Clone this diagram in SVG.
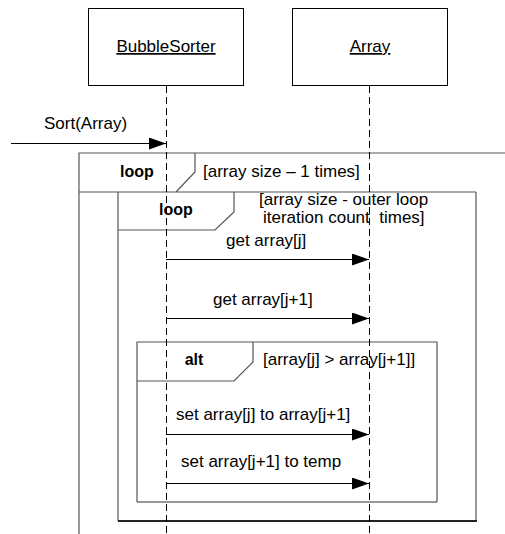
<svg xmlns="http://www.w3.org/2000/svg" width="505" height="534" viewBox="0 0 505 534">
  <style>
    .box { fill: #fff; stroke: #000; stroke-width: 1; }
    .frame { fill: none; stroke: #555; stroke-width: 1.2; }
    .life { stroke: #000; stroke-width: 1; stroke-dasharray: 7 4; fill: none; }
    .msg { stroke: #000; stroke-width: 1; fill: none; marker-end: url(#arrow); }
    text { font-family: "Liberation Sans", Arial, sans-serif; font-size: 17px; fill: #000; }
    .kw { font-weight: bold; font-size: 16px; }
    .u { text-decoration: underline; }
  </style>
  <defs>
    <marker id="arrow" markerWidth="18" markerHeight="12" refX="17" refY="6" orient="auto" markerUnits="userSpaceOnUse">
      <path d="M0,0 L17,6 L0,12 Z" fill="#000"/>
    </marker>
  </defs>

  <rect width="505" height="534" fill="#fff"/>

  <!-- combined fragments -->
  <g id="loop-outer">
    <path class="frame" d="M79,534 V153 H505"/>
    <path class="frame" d="M79,192 H476"/>
    <path class="frame" d="M195,153 V172 L176,192"/>
    <text class="kw" x="137" y="177" text-anchor="middle">loop</text>
    <text x="203" y="177">[array size – 1 times]</text>
  </g>
  <g id="loop-inner">
    <path class="frame" d="M118,192 V521 M476,192 V521"/>
    <path d="M118,521 H477" fill="none" stroke="#222" stroke-width="2"/>
    <path class="frame" d="M234,192 V212 L215,230 H118"/>
    <text class="kw" x="176" y="215" text-anchor="middle">loop</text>
    <text x="259" y="205">[array size - outer loop</text>
    <text x="263" y="223" xml:space="preserve">iteration count  times]</text>
  </g>
  <g id="alt">
    <path class="frame" d="M137,502 V342 H437 V502" stroke="#222"/>
    <path d="M137,502 H437" fill="none" stroke="#333" stroke-width="1.2"/>
    <path class="frame" d="M253,342 V362 L234,381 H137" stroke="#222"/>
    <text class="kw" x="194" y="365" text-anchor="middle">alt</text>
    <text x="263" y="365">[array[j] &gt; array[j+1]]</text>
  </g>

  <!-- lifeline heads -->
  <g id="bubblesorter">
    <rect class="box" x="88.5" y="8.5" width="155" height="77"/>
    <text class="u" x="166" y="52" text-anchor="middle"> BubbleSorter</text>
  </g>
  <g id="array">
    <rect class="box" x="292.5" y="8.5" width="155" height="77"/>
    <text class="u" x="370" y="52" text-anchor="middle"> Array</text>
  </g>

  <!-- lifelines and messages -->
  <g id="connectors">
    <line class="life" x1="166.5" y1="86" x2="166.5" y2="534"/>
    <line class="life" x1="369.5" y1="86" x2="369.5" y2="534"/>

    <line class="msg" x1="11" y1="143.5" x2="166" y2="143.5"/>
    <text x="44" y="129">Sort(Array)</text>

    <line class="msg" x1="166" y1="259.5" x2="369" y2="259.5"/>
    <text x="226" y="246">get array[j]</text>

    <line class="msg" x1="166" y1="318.5" x2="369" y2="318.5"/>
    <text x="213" y="305">get array[j+1]</text>

    <line class="msg" x1="166" y1="434.5" x2="369" y2="434.5"/>
    <text x="176" y="420">set array[j] to array[j+1]</text>

    <line class="msg" x1="166" y1="483.5" x2="369" y2="483.5"/>
    <text x="181" y="467">set array[j+1] to temp</text>
  </g>
</svg>
